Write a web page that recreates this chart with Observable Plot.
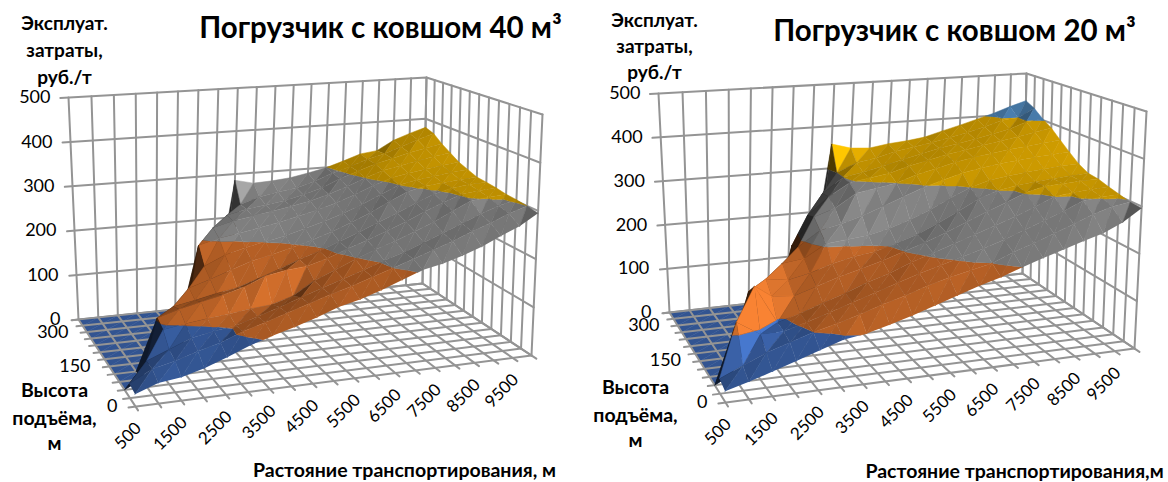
<!DOCTYPE html>
<html><head><meta charset="utf-8">
<style>html,body{margin:0;padding:0;background:#fff}svg{display:block}</style>
<script src="https://cdn.jsdelivr.net/npm/d3@7"></script>
<script src="https://cdn.jsdelivr.net/npm/@observablehq/plot@0.6"></script>
</head><body><script>
const FONT = "Lato, Carlito, 'Open Sans', sans-serif";
const distances = d3.range(20).map(i => 500 + i * 500);
const heights = d3.range(13).map(j => j * 25);
const costTicks = [0, 100, 200, 300, 400, 500];
const distanceLabels = [500, 1500, 2500, 3500, 4500, 5500, 6500, 7500, 8500, 9500];
const heightLabels = [0, 150, 300];
const bandColors = ["#4472C4", "#ED7D31", "#A5A5A5", "#FFC000", "#5B9BD5"];

const cost40 = [
 [24,40,46,58,74,92,106,118,132,148,158,172,188,204,212,224,238,256,272,295],
 [28,52,62,76,88,105,118,132,146,160,172,186,200,214,228,242,258,272,288,300],
 [0,52,70,88,96,103,116,130,145,160,174,188,203,216,232,248,264,280,294,303],
 [0,0,95,102,108,112,118,122,135,162,180,198,214,228,244,260,280,298,302,305],
 [0,0,105,118,128,138,150,168,176,180,192,208,222,238,254,272,288,302,306,309],
 [0,0,0,110,118,128,135,150,165,182,196,212,228,246,262,280,296,306,310,312],
 [0,0,0,0,131,145,160,175,185,196,208,222,238,256,276,295,304,308,311,314],
 [0,0,0,0,0,160,180,192,201,210,222,234,248,264,282,300,308,313,318,322],
 [0,0,0,0,0,193,205,212,220,228,238,248,260,275,292,306,314,320,325,330],
 [0,0,0,0,0,0,217,228,235,242,250,258,270,284,300,314,322,330,337,343],
 [0,0,0,0,0,0,0,230,240,246,252,262,274,292,306,320,330,340,348,356],
 [0,0,0,0,0,0,0,0,240,254,262,268,280,296,308,322,332,346,360,372],
 [0,0,0,0,0,0,0,0,286,276,278,282,290,299,312,326,331,353,367,379]
];
const cost20 = [
 [22,35,49,64,80,95,102,114,127,142,157,172,184,200,214,227,240,252,270,296],
 [30,50,70,85,100,112,125,140,153,168,180,190,200,218,232,248,264,280,292,298],
 [0,122,92,92,105,120,135,150,165,180,192,205,218,232,248,264,280,298,302,304],
 [0,0,175,95,108,125,140,158,172,190,205,220,235,250,265,282,300,305,308,310],
 [0,0,150,135,130,145,160,172,185,200,215,232,250,268,285,302,312,314,316,317],
 [0,0,0,157,150,160,175,185,192,205,220,240,262,285,300,307,312,315,318,320],
 [0,0,0,0,172,178,205,210,215,225,240,258,280,300,312,318,323,327,330,332],
 [0,0,0,0,0,190,222,232,245,262,280,297,310,322,330,336,340,344,347,350],
 [0,0,0,0,0,181,240,255,285,292,300,315,325,336,344,350,356,360,365,369],
 [0,0,0,0,0,0,232,270,298,305,312,325,335,345,352,360,367,374,382,389],
 [0,0,0,0,0,0,0,266,300,308,318,330,340,350,358,366,375,384,398,403],
 [0,0,0,0,0,0,0,0,300,320,328,340,347,355,364,373,384,396,400,421],
 [0,0,0,0,0,0,0,0,358,345,342,349,353,359,371,382,394,406,420,432]
];

function homography(p0, p1, p2, p3) {
  const [x0,y0]=p0,[x1,y1]=p1,[x2,y2]=p2,[x3,y3]=p3;
  const dx1=x1-x2,dx2=x3-x2,sx=x0-x1+x2-x3,dy1=y1-y2,dy2=y3-y2,sy=y0-y1+y2-y3;
  const D=dx1*dy2-dx2*dy1,g=(sx*dy2-dx2*sy)/D,h=(dx1*sy-sx*dy1)/D;
  const a=x1-x0+g*x1,b=x3-x0+h*x3,d=y1-y0+g*y1,e=y3-y0+h*y3;
  return (u,v)=>{const w=g*u+h*v+1;return [(a*u+b*v+x0)/w,(d*u+e*v+y0)/w];};
}
function box(c){
  const fl=homography(c.floor[0],c.floor[1],c.floor[2],c.floor[3]);
  const tp=homography(c.top[0],c.top[1],c.top[2],c.top[3]);
  return (i,j,z)=>{
    const u=i/19,v=j/12,t=z/500,a=fl(u,v),b=tp(u,v);
    return [a[0]+(b[0]-a[0])*t,a[1]+(b[1]-a[1])*t];
  };
}
let uid=0;
function clipBand(tri,lo,hi){
  const clip=(poly,keep,val)=>{
    const out=[];
    for(let k=0;k<poly.length;k++){
      const A=poly[k],B=poly[(k+1)%poly.length],ka=keep(A[2]),kb=keep(B[2]);
      if(ka)out.push(A);
      if(ka!==kb){const t=(val-A[2])/(B[2]-A[2]);out.push([A[0]+(B[0]-A[0])*t,A[1]+(B[1]-A[1])*t,val]);}
    }
    return out;
  };
  let p=clip(tri,z=>z>=lo,lo);
  if(p.length)p=clip(p,z=>z<=hi,hi);
  return p;
}
function shade(tri){
  const w=q=>[q[0]*20,q[1]*14,q[2]*0.5];
  const [a,b,c]=tri.map(w);
  const U=[b[0]-a[0],b[1]-a[1],b[2]-a[2]],V=[c[0]-a[0],c[1]-a[1],c[2]-a[2]];
  let n=[U[1]*V[2]-U[2]*V[1],U[2]*V[0]-U[0]*V[2],U[0]*V[1]-U[1]*V[0]];
  const len=Math.hypot(...n)||1;n=n.map(x=>x/len);
  if(n[2]<0)n=n.map(x=>-x);
  const k=n[0]-0.55*n[1];
  return Math.max(0.22,Math.min(1.05,0.74+0.22*k+0.4*k*Math.abs(k)));
}
function tone(hex,s){const c=d3.rgb(hex);return d3.rgb(Math.min(255,c.r*s),Math.min(255,c.g*s),Math.min(255,c.b*s)).formatHex();}
function polys(tri,P,out){
  const s=shade(tri);
  const top=d3.max(tri,q=>q[2]),low=d3.min(tri,q=>q[2]);
  costTicks.slice(0,-1).forEach((lo,k)=>{
    const hi=lo+100;
    if(top<lo||low>hi||(top===lo&&lo>0))return;
    const p=clipBand(tri,lo,hi);
    if(p.length<3)return;
    const id=uid++,color=tone(bandColors[k],s);
    p.forEach(q=>{const [x,y]=P(q[0],q[1],q[2]);out.push({id,x,y,color});});
  });
}
function build(c){
  const P=box(c),Z=c.values,ground=[],surf=[],grid=[];
  const nI=distances.length,nJ=heights.length;
  const line=(pts)=>{const id=uid++;pts.forEach(([i,j,z])=>{const [x,y]=P(i,j,z);grid.push({id,x,y});});};
  distances.forEach((_,i)=>line([[i,nJ-1,0],[i,nJ-1,500]]));
  heights.forEach((_,j)=>line([[nI-1,j,0],[nI-1,j,500]]));
  costTicks.forEach(z=>{line([[-0.35,nJ-1,z],[nI-1,nJ-1,z],[nI-1,0,z]]);});
  const wallRows=grid.splice(0);
  distances.forEach((_,i)=>line([[i,-0.45,0],[i,nJ-1,0]]));
  heights.forEach((_,j)=>line([[-0.3,j,0],[nI-1,j,0]]));
  const floorRows=grid.splice(0);
  for(let j=nJ-2;j>=0;j--)for(let i=nI-2;i>=0;i--){
    const a=[i,j,Z[j][i]],b=[i+1,j,Z[j][i+1]],d=[i+1,j+1,Z[j+1][i+1]],e=[i,j+1,Z[j+1][i]];
    [[e,d,a],[a,d,b]].forEach(t=>{
      const flat=t.every(q=>q[2]===0);
      polys(t,P,flat?ground:surf);
    });
  }
  return {P,ground,surf,wallRows,floorRows};
}
const charts=[
 {values:cost40,floor:[[135,406],[531,355],[422,283],[78,319]],top:[[126,150],[542,114],[426,77],[68,97]],
  title:"Погрузчик с ковшом 40 м³",tx:380,ty:28,axis:"Растояние транспортирования, м",ax:404,ay:470,acx:64,acy:[23,50,77],hcx:54,hcy:[390,418,443]},
 {values:cost20,floor:[[725,402],[1134,348],[1022,273],[669,312]],top:[[716,149],[1146,111],[1026,73],[658,93]],
  title:"Погрузчик с ковшом 20 м³",tx:954,ty:31,axis:"Растояние транспортирования,м",ax:1014,ay:471,acx:654,acy:[20,46,72],hcx:635,hcy:[387,415,440]}
];
const marks=[];
const T=(rows,opts)=>Plot.text(rows,{x:"x",y:"y",text:"t",fontFamily:FONT,fill:"#000",...opts});
charts.forEach(c=>{
  const b=build(c);
  const L=(rows,w)=>Plot.line(rows,{x:"x",y:"y",z:"id",stroke:"#949494",strokeWidth:w,curve:"linear"});
  marks.push(L(b.wallRows,2));
  marks.push(Plot.line(b.ground,{x:"x",y:"y",z:"id",fill:"color",stroke:"color",strokeWidth:0.5}));
  marks.push(L(b.floorRows,2));
  marks.push(Plot.line(b.surf,{x:"x",y:"y",z:"id",fill:"color",stroke:"color",strokeWidth:0.5}));
  const P=b.P,nJ=heights.length;
  marks.push(T(costTicks.map(z=>{const [x,y]=P(0,nJ-1,z);return {x:x-18,y,t:String(z)};}),{textAnchor:"end",fontSize:18}));
  marks.push(T(heightLabels.map(h=>{const j=heights.indexOf(h),[x,y]=P(0,j,0);return {x:x-10-8*(1-j/12),y:y+13*j/12,t:String(h)};}),{textAnchor:"end",fontSize:18}));
  marks.push(T(distanceLabels.map(v=>{const i=distances.indexOf(v),[x,y]=P(i,0,0);return {x:x+3,y:y+19,t:String(v)};}),{textAnchor:"end",rotate:-45,fontSize:17}));
  marks.push(T([{x:c.tx,y:c.ty,t:c.title}],{fontSize:29.5,fontWeight:"bold"}));
  marks.push(T([{x:c.ax,y:c.ay,t:c.axis}],{fontSize:19.5,fontWeight:"bold"}));
  marks.push(T(["Эксплуат.","затраты,","руб./т"].map((t,k)=>({x:c.acx,y:c.acy[k],t})),{fontSize:19,fontWeight:"bold"}));
  marks.push(T(["Высота","подъёма,","м"].map((t,k)=>({x:c.hcx,y:c.hcy[k],t})),{fontSize:19.5,fontWeight:"bold"}));
});
const fig=Plot.plot({width:1168,height:482,margin:0,
  x:{domain:[0,1168],axis:null},y:{domain:[482,0],axis:null},color:{type:"identity"},marks});
document.body.appendChild(fig);
</script></body></html>
